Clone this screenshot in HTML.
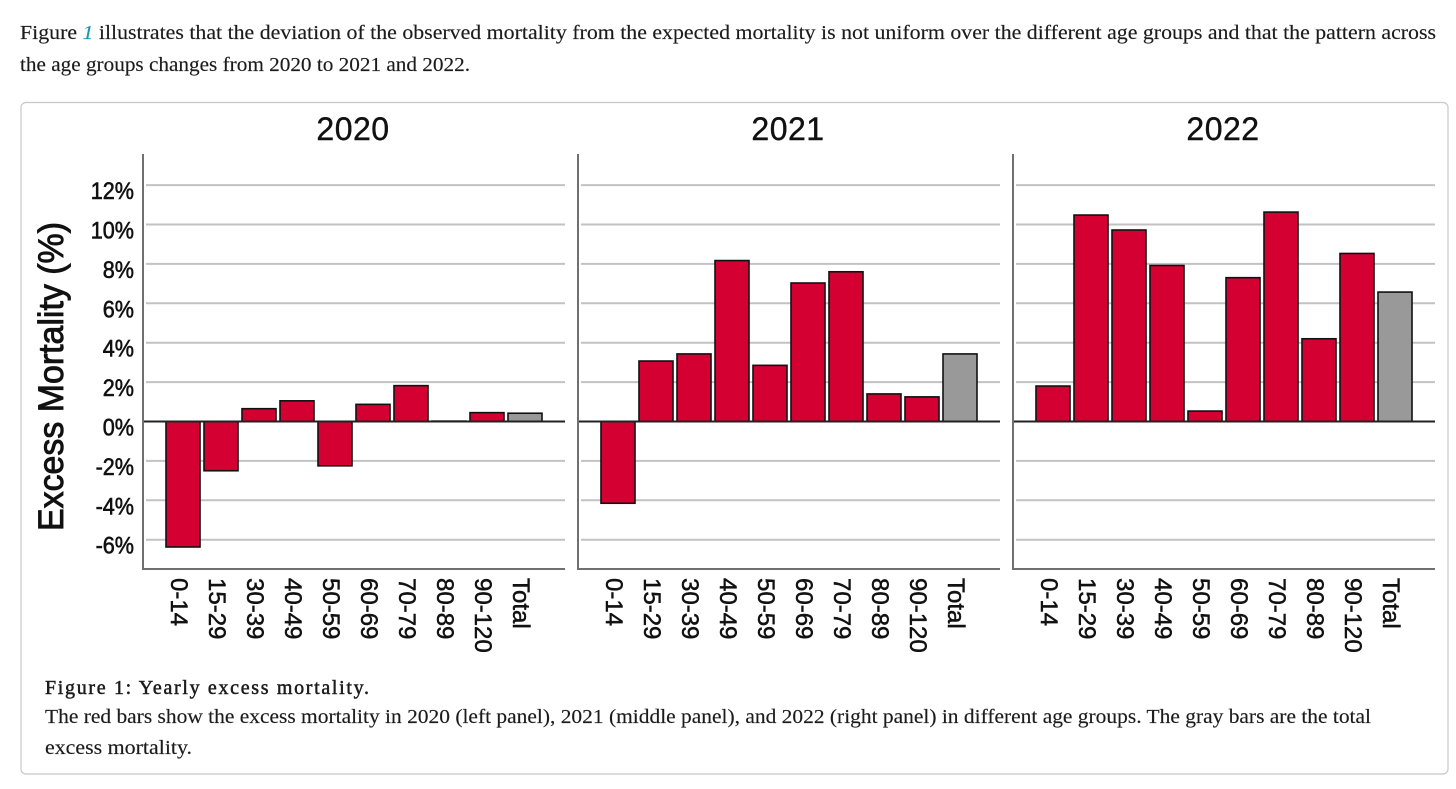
<!DOCTYPE html>
<html lang="en">
<head>
<meta charset="utf-8">
<title>Yearly excess mortality</title>
<style>
html,body{margin:0;padding:0;background:#fff;width:1456px;height:789px;overflow:hidden}
svg{display:block}
.body{font-family:"Liberation Serif",serif;font-size:20px;fill:#1c1c1c;stroke:#1c1c1c;stroke-width:0.15px}
.chart{font-family:"Liberation Sans",sans-serif;fill:#111}
</style>
</head>
<body>
<svg id="page" width="1456" height="789" viewBox="0 0 1456 789" xmlns="http://www.w3.org/2000/svg">
  <text class="body" x="20" y="39" textLength="1416" lengthAdjust="spacingAndGlyphs">Figure <tspan fill="#1a93b5" stroke="#1a93b5" font-style="italic">1</tspan> illustrates that the deviation of the observed mortality from the expected mortality is not uniform over the different age groups and that the pattern across</text>
  <text class="body" x="20" y="71" textLength="450" lengthAdjust="spacingAndGlyphs">the age groups changes from 2020 to 2021 and 2022.</text>
  <rect x="21" y="102.5" width="1427" height="671.5" rx="5" fill="#fff" stroke="#c8c8c8" stroke-width="1.2"/>
  <g id="chart" class="chart"></g>
  <text class="body" x="45" y="694" style="stroke-width:0.5px" textLength="324">Figure 1: Yearly excess mortality.</text>
  <text class="body" x="45" y="723" textLength="1326" lengthAdjust="spacingAndGlyphs">The red bars show the excess mortality in 2020 (left panel), 2021 (middle panel), and 2022 (right panel) in different age groups. The gray bars are the total</text>
  <text class="body" x="45" y="754" textLength="147" lengthAdjust="spacingAndGlyphs">excess mortality.</text>
</svg>
<script>
const categories = ['0-14','15-29','30-39','40-49','50-59','60-69','70-79','80-89','90-120','Total'];
const years = ['2020','2021','2022'];
const values2020 = [-6.37,-2.5,0.65,1.05,-2.25,0.87,1.82,0.02,0.45,0.42];
const values2021 = [-4.15,3.07,3.43,8.17,2.85,7.03,7.6,1.4,1.25,3.43];
const values2022 = [1.8,10.48,9.72,7.92,0.53,7.3,10.63,4.2,8.53,6.57];
const yTicks = [12,10,8,6,4,2,0,-2,-4,-6];

const series = [values2020, values2021, values2022];
const root = document.getElementById('chart');
const NS = 'http://www.w3.org/2000/svg';
function make(tag, attrs, parent, text) {
  const el = document.createElementNS(NS, tag);
  for (const k in attrs) el.setAttribute(k, attrs[k]);
  if (text !== undefined) el.textContent = text;
  parent.appendChild(el);
  return el;
}
const y = v => 421.5 - v * 19.7;
const panelLeft = i => [143, 578, 1013][i];
const panelRight = i => [565, 1000, 1435][i];
const bandX = (p, c) => panelLeft(p) + 23 + c * 38;
const barWidth = 34;
const plotTop = 154, plotBottom = 569;

years.forEach((year, p) => {
  const left = panelLeft(p), right = panelRight(p);
  const panel = make('g', {}, root);
  
  

  const title = make('text', {x: (left + right) / 2 - 1, y: 140, 'text-anchor': 'middle', 'font-size': 32, 'letter-spacing': '0.5', stroke: '#111', 'stroke-width': 0.4}, panel, year);
  
  

  yTicks.forEach(t => {
    if (t === 0) return;
    const grid = make('line', {x1: left + 3, x2: right, y1: y(t), y2: y(t), stroke: '#c2c2c2', 'stroke-width': 2}, panel);
    
    
  });

  series[p].forEach((v, c) => {
    const top = Math.min(y(v), y(0));
    const h = Math.abs(y(v) - y(0));
    const bar = make('rect', {
      x: bandX(p, c), y: top, width: barWidth, height: h,
      fill: categories[c] === 'Total' ? '#999999' : '#d50032',
      stroke: '#111', 'stroke-width': 1.6
    }, panel);
    
    

    const cx = bandX(p, c) + barWidth / 2;
    const label = make('text', {
      transform: 'translate(' + (cx - 12) + ',578) rotate(90)',
      'font-size': 24, stroke: '#111', 'stroke-width': 0.5
    }, panel, categories[c]);
    
    
  });

  const zero = make('line', {x1: left, x2: right, y1: y(0), y2: y(0), stroke: '#222', 'stroke-width': 2}, panel);
  
  

  const yAxis = make('line', {x1: left, x2: left, y1: plotTop, y2: plotBottom + 1, stroke: '#707070', 'stroke-width': 2}, panel);
  
  

  const xAxis = make('line', {x1: left, x2: right, y1: plotBottom, y2: plotBottom, stroke: '#707070', 'stroke-width': 2}, panel);
  
  
});

yTicks.forEach(t => {
  const tick = make('text', {
    transform: 'translate(134,' + (y(t) + 14) + ') scale(0.9,1)',
    'text-anchor': 'end', 'font-size': 24, stroke: '#111', 'stroke-width': 0.6
  }, root, t + '%');
  
  
});

const yTitle = make('text', {
  transform: 'translate(63,531) rotate(-90)',
  'font-size': 35, textLength: 309, lengthAdjust: 'spacingAndGlyphs', stroke: '#111', 'stroke-width': 0.9
}, root, 'Excess Mortality (%)');


</script>
</body>
</html>
